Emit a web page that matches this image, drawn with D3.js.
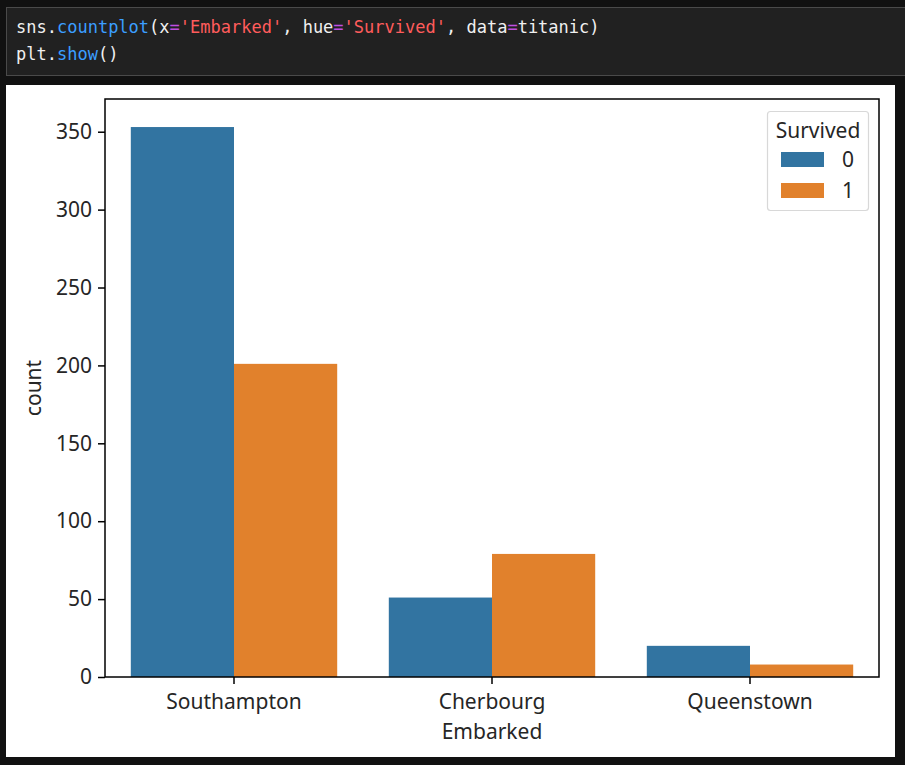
<!DOCTYPE html>
<html><head><meta charset="utf-8">
<script src="https://cdn.jsdelivr.net/npm/d3@7"></script>
<style>
html,body{margin:0;padding:0;background:#111111;}
svg{display:block;}
</style></head>
<body>
<svg id="c" width="905" height="765"></svg>
<script>
const categories = ["Southampton", "Cherbourg", "Queenstown"];
const hues = ["0", "1"];
const died = [353, 51, 20];
const survived = [201, 79, 8];
const yTicks = [0, 50, 100, 150, 200, 250, 300, 350];
const colors = ["#3274a1", "#e1812c"];

const svg = d3.select("#c");
const W = 905, H = 765;
svg.append("rect").attr("width", W).attr("height", H).attr("fill", "#111111");

// code cell
svg.append("rect").attr("x", 6.5).attr("y", 7.5).attr("width", 905).attr("height", 68)
  .attr("fill", "#212121").attr("stroke", "#4a4a4a").attr("stroke-width", 1);
const mono = "'DejaVu Sans Mono', 'Liberation Mono', monospace";
const line1 = [["sns.", "#f0f0f0"], ["countplot", "#3b9eff"], ["(x", "#f0f0f0"], ["=", "#c04ee0"], ["'Embarked'", "#ff5c5c"], [", hue", "#f0f0f0"], ["=", "#c04ee0"], ["'Survived'", "#ff5c5c"], [", data", "#f0f0f0"], ["=", "#c04ee0"], ["titanic)", "#f0f0f0"]];
const line2 = [["plt.", "#f0f0f0"], ["show", "#3b9eff"], ["()", "#f0f0f0"]];
function codeLine(parts, y) {
  const t = svg.append("text").attr("x", 16).attr("y", y).attr("font-family", mono)
    .attr("font-size", 17);
  parts.forEach(p => t.append("tspan").attr("fill", p[1]).text(p[0]));
}
codeLine(line1, 33);
codeLine(line2, 60);

// output area
svg.append("rect").attr("x", 6).attr("y", 85).attr("width", 889).attr("height", 672).attr("fill", "#ffffff");

const m = {l: 105, t: 99, r: 879, b: 677};
const font = "'Noto Sans', 'Open Sans', sans-serif";
const fs = 21;
const tc = "#262626";
const x = d3.scaleBand().domain(categories).range([m.l, m.r]).padding(0);
const xs = d3.scaleBand().domain(hues).range([0, x.bandwidth() * 0.8]);
const y = d3.scaleLinear().domain([0, 371]).range([m.b, m.t]);

const data = [];
categories.forEach((c, i) => {
  data.push({c, h: "0", v: died[i]});
  data.push({c, h: "1", v: survived[i]});
});
const g = svg.append("g");
g.selectAll("rect.bar").data(data).join("rect").attr("class", "bar")
  .attr("x", d => x(d.c) + x.bandwidth() * 0.1 + xs(d.h))
  .attr("y", d => y(d.v))
  .attr("width", xs.bandwidth())
  .attr("height", d => y(0) - y(d.v))
  .attr("fill", d => colors[hues.indexOf(d.h)]);

// frame
svg.append("rect").attr("x", m.l).attr("y", m.t).attr("width", m.r - m.l).attr("height", m.b - m.t)
  .attr("fill", "none").attr("stroke", "#000").attr("stroke-width", 1.5);

// axes
const ya = svg.append("g").attr("transform", `translate(${m.l},0)`)
  .call(d3.axisLeft(y).tickValues(yTicks).tickSize(7).tickPadding(6));
const xa = svg.append("g").attr("transform", `translate(0,${m.b})`)
  .call(d3.axisBottom(x).tickSize(7).tickPadding(10));
[ya, xa].forEach(a => {
  a.select(".domain").remove();
  a.selectAll("line").attr("stroke", "#000").attr("stroke-width", 1.5);
  a.selectAll("text").attr("fill", tc).attr("font-family", font).attr("font-size", fs);
});

svg.append("text").attr("x", x("Cherbourg") + x.bandwidth() / 2).attr("y", 739).attr("text-anchor", "middle")
  .attr("font-family", font).attr("font-size", fs).attr("fill", tc).text("Embarked");
svg.append("text").attr("transform", "translate(41,388) rotate(-90)").attr("text-anchor", "middle")
  .attr("font-family", font).attr("font-size", fs).attr("fill", tc).text("count");

// legend
const lg = svg.append("g");
lg.append("rect").attr("x", 767.5).attr("y", 111.5).attr("width", 101).attr("height", 99).attr("rx", 3)
  .attr("fill", "#fff").attr("stroke", "#d8d8d8").attr("stroke-width", 1.2);
lg.append("text").attr("x", 818).attr("y", 138).attr("text-anchor", "middle")
  .attr("font-family", font).attr("font-size", fs).attr("fill", tc).text("Survived");
hues.forEach((h, i) => {
  const yy = 152 + i * 31;
  lg.append("rect").attr("x", 781).attr("y", yy).attr("width", 43).attr("height", 15).attr("fill", colors[i]);
  lg.append("text").attr("x", 842).attr("y", yy + 15).attr("font-family", font).attr("font-size", fs)
    .attr("fill", tc).text(h);
});
</script>
</body></html>
